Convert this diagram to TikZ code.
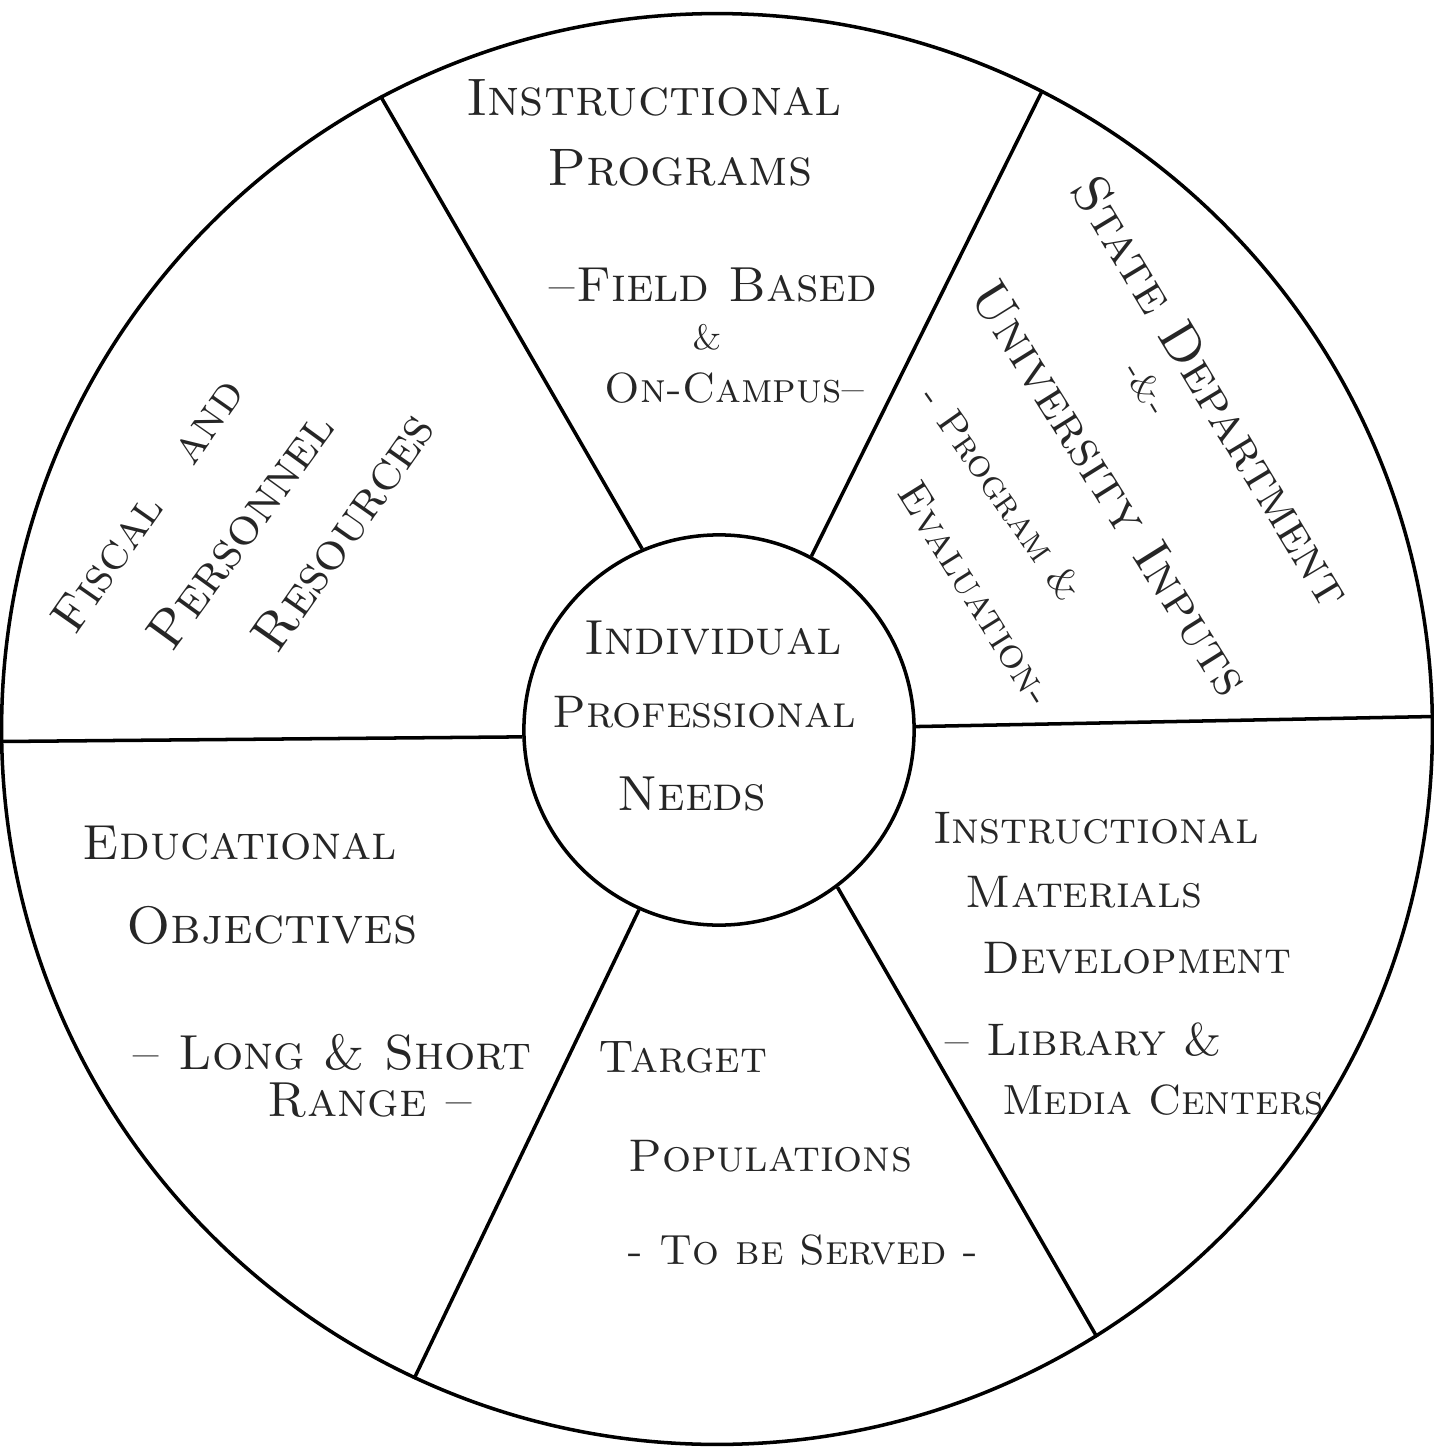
\documentclass[tikz,border=0pt]{standalone}
\usepackage{tikz}
\usetikzlibrary{positioning}
\tikzset{
  wheel/.style={circle, draw, line width=1pt, inner sep=0pt},
  spoke/.style={line width=1pt},
  hand/.style={font=\fontsize{#1}{#1}\selectfont\scshape, inner sep=0pt, text=black!85},
  hand/.default=14
}

\begin{document}
\begin{tikzpicture}[x=0.01cm, y=-0.01cm]
\useasboundingbox (0,0) rectangle (1433,1455);
\node (Rim) [wheel, minimum size=14.3cm] at (717,729) {};
\node (Hub) [wheel, minimum size=3.9cm] at (719,730) {};
% spokes
\draw [spoke] (Hub.182) -- (Rim.181);
\draw [spoke] (Hub.1) -- (Rim.1);
\draw [spoke] (Hub.113) -- (Rim.118);
\draw [spoke] (Hub.62) -- (Rim.63);
\draw [spoke] (Hub.246) -- (Rim.245);
\draw [spoke] (Hub.-53) -- (Rim.-58);
% top sector
\node (InstrA) [hand=15] at (654,98) {Instructional};
\node (InstrB) [hand=15] at (680,168) {Programs};
\node (InstrC) [hand=14] at (713,285) {--Field Based};
\node (InstrD) [hand=10] at (707,337) {\&};
\node (InstrE) [hand=12] at (735,388) {On-Campus--};
% upper right sector
\node (StateA) [hand=15, rotate=-59] at (1212,391) {State Department};
\node (StateB) [hand=10, rotate=-59] at (1147,388) {-\&-};
\node (StateC) [hand=15, rotate=-58] at (1110,488) {University Inputs};
\node (StateD) [hand=11, rotate=-55] at (1002,493) {- Program \&};
\node (StateE) [hand=12, rotate=-58] at (976,594) {Evaluation-};
% upper left sector
\node (FiscA) [hand=14, rotate=55] at (147,505) {Fiscal\quad and};
\node (FiscB) [hand=15, rotate=54] at (240,530) {Personnel};
\node (FiscC) [hand=15, rotate=55] at (343,532) {Resources};
% hub
\node (NeedA) [hand=14] at (713,638) {Individual};
\node (NeedB) [hand=13] at (704,712) {Professional};
\node (NeedC) [hand=14] at (692,794) {Needs};
% lower left sector
\node (EduA) [hand=14] at (240,843) {Educational};
\node (EduB) [hand=15] at (272,925) {Objectives};
\node (EduC) [hand=14] at (332,1052) {-- Long \& Short};
\node (EduD) [hand=14] at (370,1100) {Range --};
% bottom sector
\node (TgtA) [hand=13] at (683,1057) {Target};
\node (TgtB) [hand=13] at (770,1156) {Populations};
\node (TgtC) [hand=12] at (803,1250) {- To be Served -};
% lower right sector
\node (MatA) [hand=13] at (1096,828) {Instructional};
\node (MatB) [hand=13] at (1084,892) {Materials};
\node (MatC) [hand=13] at (1137,958) {Development};
\node (MatD) [hand=13] at (1083,1040) {-- Library \&};
\node (MatE) [hand=12] at (1163,1100) {Media Centers};
\end{tikzpicture}
\end{document}
